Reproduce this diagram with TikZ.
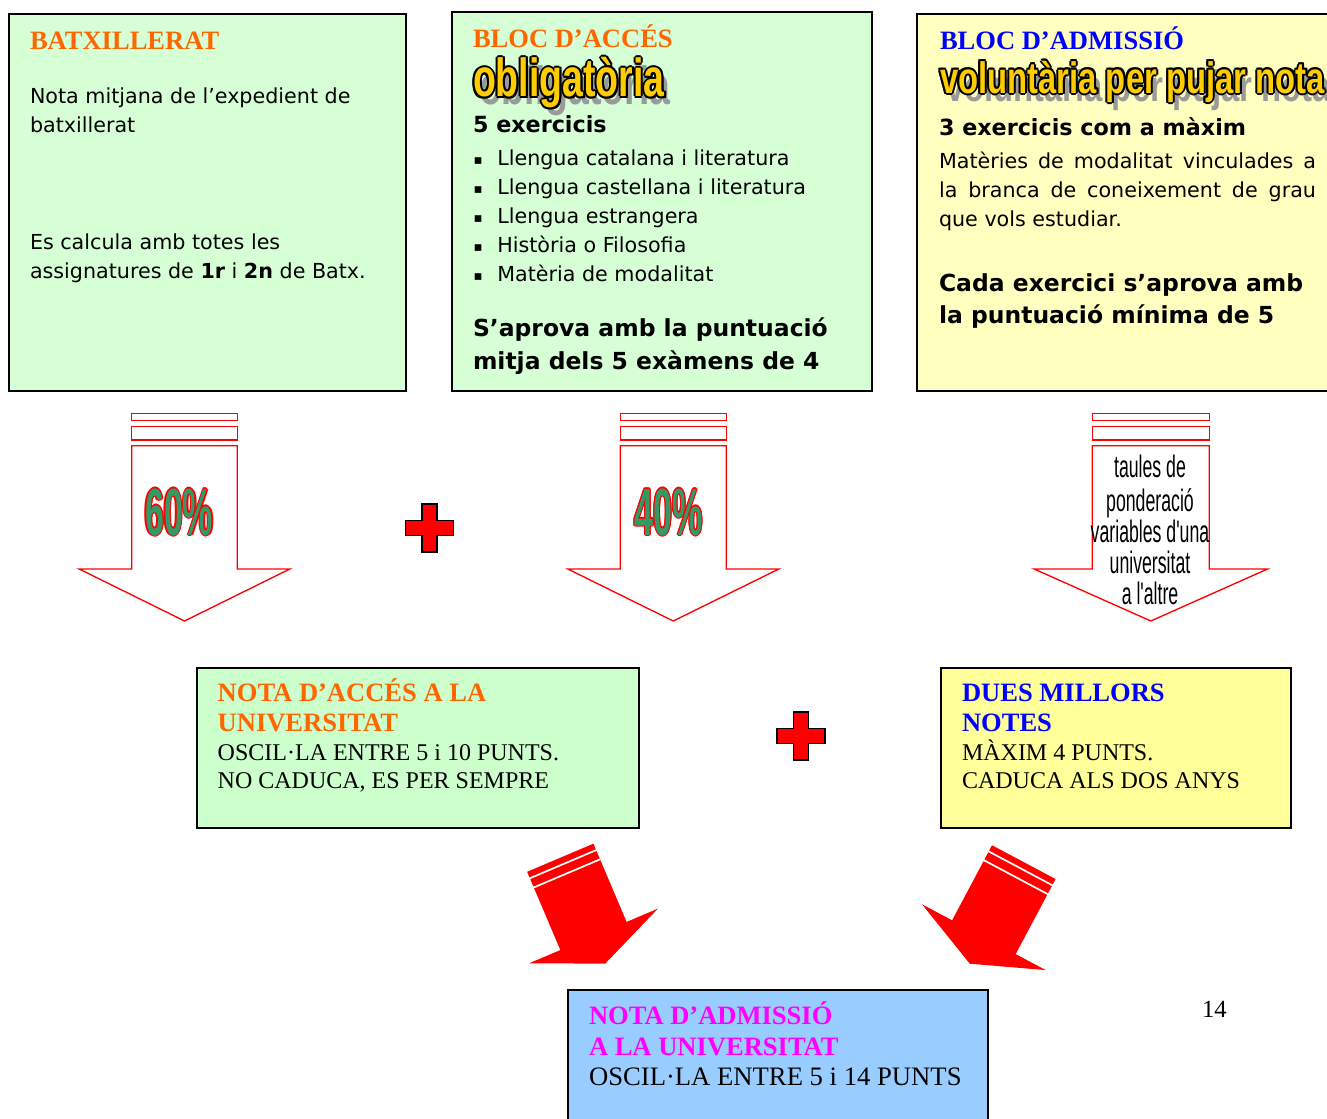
\documentclass[tikz,border=0pt]{standalone}
\usepackage{fontspec}
\usepackage{graphicx}
\setmainfont{Liberation Serif}
\newfontfamily\sansf{DejaVu Sans}
\newfontfamily\arialf{Liberation Sans}
\definecolor{greenA}{HTML}{D6FFD6}
\definecolor{greenB}{HTML}{CCFFCC}
\definecolor{yellowA}{HTML}{FFFFC0}
\definecolor{yellowB}{HTML}{FFFF99}
\definecolor{blueA}{HTML}{99CCFF}
\definecolor{orangeT}{HTML}{FF6600}
\definecolor{blueT}{HTML}{0000FF}
\definecolor{magT}{HTML}{FF00FF}
\definecolor{arrowred}{HTML}{FF0000}
\definecolor{wayellow}{HTML}{FFCC00}
\definecolor{shadowgrey}{HTML}{9A9A9A}
\definecolor{pctgreen}{HTML}{339966}
\tikzset{
  txt/.style={anchor=base west, inner sep=0pt, outer sep=0pt},
  ctxt/.style={anchor=base, inner sep=0pt, outer sep=0pt},
  boxA/.style={draw=black, line width=1.25pt},
  hollow/.style={draw=arrowred, fill=white, line width=1pt, line join=miter},
  plusmark/.style={fill=arrowred, draw=black, line width=1.1pt, line join=miter},
  ttl/.style={txt, font=\fontsize{19.9pt}{22pt}\selectfont\bfseries},
  sbody/.style={txt, font=\sansf\fontsize{15.5pt}{18pt}\selectfont},
  bulletst/.style={txt, font=\sansf\fontsize{10pt}{12pt}\selectfont},
  sbold/.style={txt, font=\sansf\bfseries\fontsize{16.7pt}{19pt}\selectfont},
  heavy/.style={txt, font=\sansf\bfseries\fontsize{17.6pt}{20pt}\selectfont},
  rbody/.style={txt, font=\fontsize{18pt}{20pt}\selectfont},
  rbodyL/.style={txt, font=\fontsize{20pt}{22pt}\selectfont},
  arrtxt/.style={ctxt, font=\arialf\fontsize{23.3pt}{25pt}\selectfont},
}
\newcommand\wordart[6]{%
  \node[txt, text=shadowgrey, font=\arialf\bfseries\fontsize{#4}{#4}\selectfont] (#1s) at (#2+6,#3+8) {\scalebox{#5}[1]{#6}};
  \foreach \dx/\dy [count=\k] in {+2/+0,-2/+0,+0/+2,+0/-2,+1.4/+1.4,-1.4/+1.4,+1.4/-1.4,-1.4/-1.4}
    \node[txt, text=black, font=\arialf\bfseries\fontsize{#4}{#4}\selectfont] (#1o\k) at (#2\dx,#3\dy) {\scalebox{#5}[1]{#6}};
  \node[txt, text=wayellow, font=\arialf\bfseries\fontsize{#4}{#4}\selectfont] (#1) at (#2,#3) {\scalebox{#5}[1]{#6}};
}
\newcommand\pctmark[4]{%
  \foreach \dx/\dy [count=\k] in {+1.2/+0,-1.2/+0,+0/+1.2,+0/-1.2,+0.9/+0.9,-0.9/+0.9,+0.9/-0.9,-0.9/-0.9}
    \node[ctxt, text=arrowred, font=\arialf\bfseries\fontsize{50pt}{50pt}\selectfont] (#1o\k) at (#2\dx,#3\dy) {\scalebox{0.51}[1]{#4}};
  \node[ctxt, text=pctgreen, font=\arialf\bfseries\fontsize{50pt}{50pt}\selectfont] (#1) at (#2,#3) {\scalebox{0.51}[1]{#4}};
}
\newcommand\hollowarrow[3]{%
  \draw[hollow] (#1-#2,413.3) rectangle (#1+#2,420.7);
  \draw[hollow] (#1-#2,426.7) rectangle (#1+#2,440);
  \draw[hollow] (#1-#2,445.7) -- (#1+#2,445.7) -- (#1+#2,569) -- (#1+#3,569)
     -- (#1,621) -- (#1-#3,569) -- (#1-#2,569) -- cycle;
}
\newcommand\solidarrow[3]{%
  \begin{scope}[shift={(#1,#2)}, rotate=#3]
    \fill[arrowred] (0,0) -- (70,-30) -- (36,-30) -- (36,-97) -- (-36,-97)
       -- (-36,-30) -- (-70,-30) -- cycle;
    \fill[arrowred] (-36,-99) rectangle (36,-107);
    \fill[arrowred] (-36,-109) rectangle (36,-115);
  \end{scope}
}
\newcommand\plussign[2]{%
  \draw[plusmark] (#1-7.5,#2-24) -- (#1+7.5,#2-24) -- (#1+7.5,#2-7.5) -- (#1+24,#2-7.5)
    -- (#1+24,#2+7.5) -- (#1+7.5,#2+7.5) -- (#1+7.5,#2+24) -- (#1-7.5,#2+24)
    -- (#1-7.5,#2+7.5) -- (#1-24,#2+7.5) -- (#1-24,#2-7.5) -- (#1-7.5,#2-7.5) -- cycle;
}
\newcommand\nar[1]{\scalebox{0.57}[1]{#1}}
\begin{document}
\begin{tikzpicture}[x=0.75pt, y=-0.75pt]
\useasboundingbox (0,0) rectangle (1327,1119);
\clip (0,0) rectangle (1327,1119);
\fill[white] (0,0) rectangle (1327,1119);

% ---------- top boxes ----------
\draw[boxA, fill=greenA] (9,14) rectangle (406,391);
\draw[boxA, fill=greenA] (452,12) rectangle (872,391);
\draw[boxA, fill=yellowA] (917,14) rectangle (1340,391);

% box 1
\node[ttl, text=orangeT] (b1t) at (30,50) {BATXILLERAT};
\node[sbody] (b1a) at (30,103.3) {Nota mitjana de l’expedient de};
\node[sbody] (b1b) at (30,132.7) {batxillerat};
\node[sbody] (b1c) at (30,249.3) {Es calcula amb totes les};
\node[sbody] (b1d) at (30,278.3) {assignatures de \textbf{1r} i \textbf{2n} de Batx.};

% box 2
\node[ttl, text=orangeT] (b2t) at (473,47.7) {BLOC D’ACCÉS};
\wordart{wa1}{473}{96.7}{40.2pt}{0.70}{obligatòria}
\node[sbold] (b2h) at (473,132.6) {5 exercicis};
\foreach \yy/\tt [count=\i] in {166/{Llengua catalana i literatura},195/{Llengua castellana i literatura},223.9/{Llengua estrangera},252.8/{Història o Filosofia},281.7/{Matèria de modalitat}}{
  \node[bulletst] (bul\i) at (473.5,\yy-1.5) {▪};
  \node[sbody] (li\i) at (497.3,\yy) {\tt};
}
\node[heavy] (b2x) at (473,336.7) {S’aprova amb la puntuació};
\node[heavy] (b2y) at (473,369.3) {mitja dels 5 exàmens de 4};

% box 3
\node[ttl, text=blueT] (b3t) at (940,49.3) {BLOC D’ADMISSIÓ};
\wordart{wa2}{940}{93.3}{33pt}{0.746}{voluntària per pujar nota}
\node[sbold] (b3h) at (939,136) {3 exercicis com a màxim};
\node[sbody] (b3a) at (939,168.3) {\makebox[282.75pt][s]{Matèries de modalitat vinculades a}};
\node[sbody] (b3b) at (939,197.3) {\makebox[282.75pt][s]{la branca de coneixement de grau}};
\node[sbody] (b3c) at (939,226.7) {que vols estudiar.};
\node[heavy] (b3x) at (939,291.7) {Cada exercici s’aprova amb};
\node[heavy] (b3y) at (939,323.3) {la puntuació mínima de 5};

% ---------- hollow arrows ----------
\hollowarrow{184.5}{52.8}{105.3}
\hollowarrow{673.3}{53}{105.5}
\hollowarrow{1150.8}{58.5}{116.7}
\pctmark{p60}{179.2}{535}{60\%}
\pctmark{p40}{668.5}{535}{40\%}
\node[arrtxt] (r1) at (1150,477.7) {\nar{taules de}};
\node[arrtxt] (r2) at (1150,511) {\nar{ponderació}};
\node[arrtxt] (r3) at (1150,542.3) {\nar{variables d'una}};
\node[arrtxt] (r4) at (1150,573.3) {\nar{universitat}};
\node[arrtxt] (r5) at (1150,604.3) {\nar{a l'altre}};

% plus signs
\plussign{429.3}{528}
\plussign{801}{736}

% ---------- middle boxes ----------
\draw[boxA, fill=greenB] (196.7,667.7) rectangle (639,828.3);
\node[ttl, text=orangeT] (m1a) at (217.7,701.7) {NOTA D’ACCÉS A LA};
\node[ttl, text=orangeT] (m1b) at (217.7,731.7) {UNIVERSITAT};
\node[rbody] (m1c) at (217.7,760) {OSCIL·LA ENTRE 5 i 10 PUNTS.};
\node[rbody] (m1d) at (217.7,788.3) {NO CADUCA, ES PER SEMPRE};

\draw[boxA, fill=yellowB] (941,667.7) rectangle (1291,828.3);
\node[ttl, text=blueT] (m2a) at (962,701.7) {DUES MILLORS};
\node[ttl, text=blueT] (m2b) at (962,731.7) {NOTES};
\node[rbody] (m2c) at (962,760) {MÀXIM 4 PUNTS.};
\node[rbody] (m2d) at (962,788.3) {CADUCA ALS DOS ANYS};

% ---------- solid arrows ----------
\solidarrow{605.2}{963.6}{23}
\solidarrow{969.8}{963.7}{-28}

% ---------- bottom box ----------
\draw[boxA, fill=blueA] (568,990) rectangle (988,1135);
\node[ttl, text=magT] (f1) at (589,1024.3) {NOTA D’ADMISSIÓ};
\node[ttl, text=magT] (f2) at (589,1055.7) {A LA UNIVERSITAT};
\node[rbodyL] (f3) at (589,1085) {OSCIL·LA ENTRE 5 i 14 PUNTS};

\node[txt, font=\fontsize{18.5pt}{20pt}\selectfont] (pg) at (1202,1017) {14};
\end{tikzpicture}
\end{document}
